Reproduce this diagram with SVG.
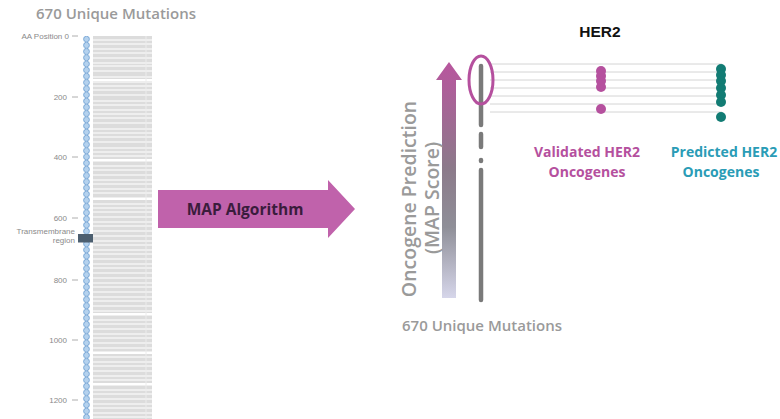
<svg xmlns="http://www.w3.org/2000/svg" width="780" height="419" viewBox="0 0 780 419">
<style>
.gt{font-family:"Open Sans","Liberation Sans",sans-serif;font-weight:600;fill:#9a9a9a}
.tick{font-family:"Liberation Sans",sans-serif;font-size:8px;fill:#8a8a8a;text-anchor:end}
.hl{stroke:#d4d4d4;stroke-width:1}
.mg{fill:#b5509e}
.tl{fill:#127c74}
.lb{font-family:"Open Sans","Liberation Sans",sans-serif;font-weight:700;font-size:14px;text-anchor:middle}
</style>
<defs>
<pattern id="beads" x="83" y="36" width="7" height="6.2" patternUnits="userSpaceOnUse">
<circle cx="3.5" cy="3.1" r="2.9" fill="#b5d2ee" stroke="#6a9cd0" stroke-width="0.8"/>
</pattern>
<linearGradient id="sg" x1="0" y1="0" x2="0" y2="1">
<stop offset="0" stop-color="#b8569e"/>
<stop offset="0.45" stop-color="#8c7a8a"/>
<stop offset="0.7" stop-color="#8f8f98"/>
<stop offset="1" stop-color="#d6d6ea"/>
</linearGradient>
</defs>
<rect width="780" height="419" fill="#fff"/>

<g id="left-panel">
<text class="gt" x="116" y="19" font-size="15" text-anchor="middle">670 Unique Mutations</text>
<rect x="93" y="36" width="59" height="383" fill="#dcdcdc"/>
<path stroke="#f4f4f4" stroke-width="1.3" d="M93 40H152M93 44H152M93 49H152M93 53H152M93 58H152M93 63H152M93 66H152M93 71H152M93 77H152M93 82H152M93 86H152M93 90H152M93 95H152M93 101H152M93 105H152M93 110H152M93 114H152M93 118H152M93 123H152M93 129H152M93 133H152M93 137H152M93 142H152M93 148H152M93 152H152M93 156H152M93 161H152M93 166H152M93 170H152M93 175H152M93 180H152M93 184H152M93 189H152M93 193H152M93 198H152M93 204H152M93 208H152M93 212H152M93 217H152M93 222H152M93 226H152M93 231H152M93 236H152M93 241H152M93 245H152M93 250H152M93 254H152M93 259H152M93 264H152M93 268H152M93 273H152M93 278H152M93 283H152M93 287H152M93 292H152M93 297H152M93 301H152M93 306H152M93 311H152M93 315H152M93 320H152M93 324H152M93 329H152M93 334H152M93 338H152M93 343H152M93 348H152M93 352H152M93 357H152M93 362H152M93 366H152M93 371H152M93 376H152M93 380H152M93 385H152M93 390H152M93 394H152M93 399H152M93 404H152M93 408H152M93 413H152M93 417H152"/>
<path stroke="#ffffff" stroke-width="2" d="M93 80H152M93 160H152M93 199H152M93 314H152M93 353H152M93 384H152"/>
<line x1="146" y1="36" x2="146" y2="419" stroke="#ececec" stroke-width="1"/>
<rect x="83" y="36" width="7" height="383" fill="url(#beads)"/>
<g stroke="#9a9a9a" stroke-width="0.8">
<line x1="72" y1="36" x2="78" y2="36"/><line x1="72" y1="97" x2="78" y2="97"/><line x1="72" y1="157" x2="78" y2="157"/><line x1="72" y1="218" x2="78" y2="218"/><line x1="72" y1="280" x2="78" y2="280"/><line x1="72" y1="340" x2="78" y2="340"/><line x1="72" y1="400" x2="78" y2="400"/>
</g>
<text class="tick" x="69" y="39">AA Position 0</text>
<text class="tick" x="67" y="100">200</text>
<text class="tick" x="67" y="160">400</text>
<text class="tick" x="67" y="221">600</text>
<text class="tick" x="67" y="283">800</text>
<text class="tick" x="67" y="343">1000</text>
<text class="tick" x="67" y="403">1200</text>
<text class="tick" x="75" y="234" font-size="5">Transmembrane</text>
<text class="tick" x="75" y="242.5" font-size="5">region</text>
<rect x="78" y="234" width="15" height="8.5" fill="#4c5f70"/>
</g>

<g id="connectors">
<g id="map-arrow">
<path d="M158 190H328V180L355 209L328 238V228H158Z" fill="#c062ab"/>
<text x="245" y="215" font-family="'Open Sans','Liberation Sans',sans-serif" font-weight="700" font-size="15.5" fill="#3a1c3c" text-anchor="middle">MAP Algorithm</text>
</g>
</g>

<g id="score-axis">
<path d="M442 298V80H436L449 62L462 80H456V298Z" fill="url(#sg)"/>
<text class="gt" font-size="19.5" text-anchor="middle" transform="translate(416,199) rotate(-90)">Oncogene Prediction</text>
<text class="gt" font-size="19.5" text-anchor="middle" transform="translate(439,198) rotate(-90)">(MAP Score)</text>
</g>

<g id="her2-lines">
<path class="hl" d="M490 64H722M490 72H722M490 80H722M490 88H722M490 96H722M490 104H722M490 112H722"/>
</g>

<g id="mutation-column">
<g stroke="#7a7a7a" stroke-width="4.5" stroke-linecap="round">
<line x1="481" y1="66" x2="481" y2="125"/>
<line x1="481" y1="134" x2="481" y2="147"/>
<line x1="481" y1="160" x2="481" y2="161"/>
<line x1="481" y1="170" x2="481" y2="300"/>
</g>
<ellipse cx="481" cy="80" rx="12" ry="24" fill="none" stroke="#b5509e" stroke-width="3"/>
<text class="gt" x="482" y="331" font-size="15" text-anchor="middle">670 Unique Mutations</text>
</g>

<g id="her2-title">
<text x="600" y="37" font-family="'Liberation Sans',Arial,sans-serif" font-weight="700" font-size="15.5" fill="#111" text-anchor="middle">HER2</text>
</g>

<g id="validated">
<circle class="mg" cx="601" cy="71" r="5"/><circle class="mg" cx="601" cy="76" r="5"/><circle class="mg" cx="601" cy="81" r="5"/><circle class="mg" cx="601" cy="87" r="5"/>
<circle class="mg" cx="601" cy="109" r="5"/>
<text class="lb" x="587" y="157" fill="#b5509e">Validated HER2</text>
<text class="lb" x="587" y="177" fill="#b5509e">Oncogenes</text>
</g>

<g id="predicted">
<circle class="tl" cx="721" cy="69" r="5"/><circle class="tl" cx="721" cy="75" r="5"/><circle class="tl" cx="721" cy="81" r="5"/><circle class="tl" cx="721" cy="88" r="5"/><circle class="tl" cx="721" cy="95" r="5"/><circle class="tl" cx="721" cy="102" r="5"/>
<circle class="tl" cx="721" cy="117" r="5"/>
<text class="lb" x="724" y="157" fill="#2a9cb6">Predicted HER2</text>
<text class="lb" x="721" y="177" fill="#2a9cb6">Oncogenes</text>
</g>
</svg>
